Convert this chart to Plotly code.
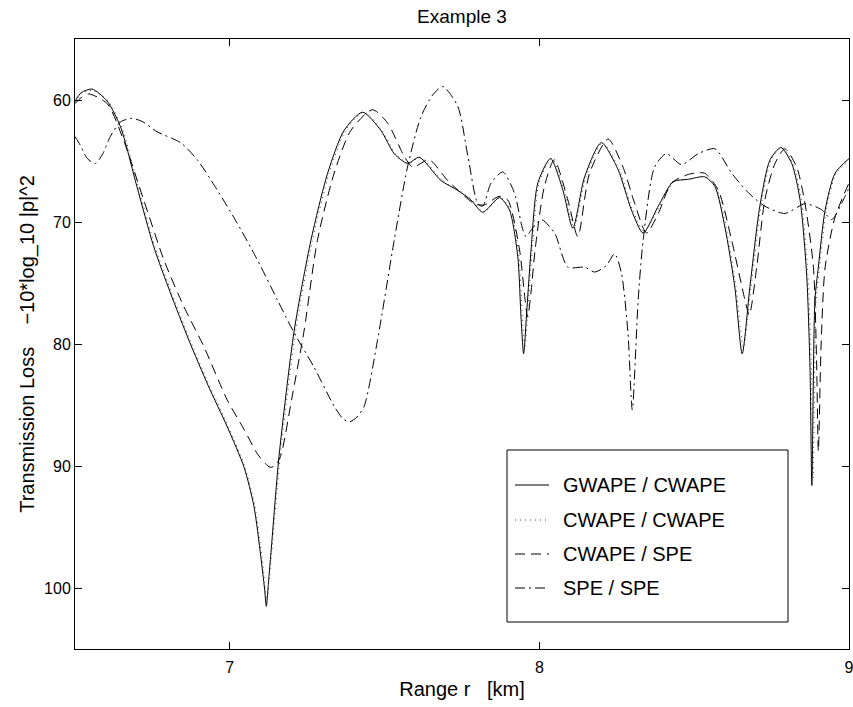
import plotly.graph_objects as go

# ---------------- data ----------------
gw_x = [6.500, 6.520, 6.555, 6.604, 6.647, 6.700, 6.754, 6.808, 6.868, 6.930, 6.992, 7.046, 7.078, 7.100, 7.112,
        7.118, 7.125, 7.132, 7.159, 7.208, 7.262, 7.316, 7.369, 7.429, 7.488, 7.531, 7.574, 7.612, 7.682, 7.736,
        7.779, 7.817, 7.871, 7.903, 7.930, 7.941, 7.949, 7.960, 7.973, 7.995, 8.036, 8.076, 8.108, 8.146, 8.200,
        8.254, 8.297, 8.335, 8.384, 8.432, 8.481, 8.534, 8.567, 8.599, 8.631, 8.655, 8.680, 8.712, 8.745, 8.780,
        8.815, 8.842, 8.863, 8.874, 8.880, 8.890, 8.901, 8.923, 8.955, 9.000]
gw_y = [60.1, 59.4, 59.1, 60.1, 62.2, 67.1, 72.0, 75.8, 79.7, 83.4, 86.8, 90.1, 93.3, 97.4, 100.0,
        101.5, 99.5, 97.4, 89.2, 78.9, 71.5, 66.0, 62.5, 61.0, 62.5, 64.4, 65.2, 64.7, 66.6, 67.4,
        68.2, 69.2, 68.0, 69.0, 72.8, 78.0, 80.8, 77.0, 72.3, 66.8, 64.8, 67.4, 70.5, 66.3, 63.5,
        65.7, 69.0, 70.9, 68.7, 66.7, 66.5, 66.3, 67.1, 70.4, 75.3, 80.8, 75.3, 68.7, 64.9, 63.9,
        65.2, 68.2, 74.2, 81.9, 91.6, 76.4, 73.7, 69.0, 66.0, 64.8]

cw_x = [6.500, 6.520, 6.557, 6.607, 6.651, 6.704, 6.758, 6.812, 6.872, 6.934, 6.996, 7.049, 7.081, 7.103, 7.114,
        7.120, 7.127, 7.135, 7.163, 7.213, 7.267, 7.321, 7.374, 7.433, 7.492, 7.535, 7.578, 7.616, 7.686, 7.740,
        7.783, 7.820, 7.874, 7.906, 7.934, 7.945, 7.953, 7.964, 7.977, 7.999, 8.040, 8.080, 8.112, 8.150, 8.204,
        8.258, 8.301, 8.339, 8.388, 8.436, 8.485, 8.538, 8.571, 8.603, 8.635, 8.659, 8.684, 8.716, 8.749, 8.784,
        8.819, 8.846, 8.867, 8.878, 8.884, 8.894, 8.905, 8.927, 8.959, 9.000]
cw_y = [60.2, 59.5, 59.2, 60.1, 62.2, 67.1, 72.0, 75.8, 79.7, 83.4, 86.8, 90.1, 93.3, 97.3, 99.8,
        101.2, 99.3, 97.2, 89.2, 78.9, 71.5, 66.0, 62.5, 61.0, 62.5, 64.4, 65.2, 64.7, 66.6, 67.4,
        68.2, 69.2, 68.0, 69.0, 72.8, 77.8, 80.3, 76.8, 72.3, 66.8, 64.8, 67.4, 70.4, 66.3, 63.5,
        65.7, 69.0, 70.8, 68.7, 66.7, 66.5, 66.3, 67.1, 70.4, 75.3, 80.3, 75.3, 68.7, 64.9, 63.9,
        65.2, 68.2, 74.2, 81.5, 91.0, 76.4, 73.7, 69.0, 66.0, 65.0]

cs_x = [6.500, 6.520, 6.544, 6.604, 6.657, 6.722, 6.787, 6.851, 6.916, 6.992, 7.046, 7.089, 7.115, 7.130, 7.145,
        7.164, 7.200, 7.240, 7.283, 7.337, 7.391, 7.461, 7.510, 7.563, 7.591, 7.644, 7.704, 7.790, 7.822, 7.870,
        7.898, 7.936, 7.952, 7.962, 7.972, 7.986, 8.016, 8.048, 8.092, 8.124, 8.162, 8.222, 8.270, 8.308, 8.346,
        8.384, 8.427, 8.481, 8.534, 8.578, 8.621, 8.664, 8.678, 8.702, 8.728, 8.761, 8.793, 8.831, 8.858, 8.885,
        8.895, 8.901, 8.910, 8.923, 8.955, 9.000]
cs_y = [60.3, 59.8, 59.5, 60.3, 63.3, 68.2, 73.1, 76.9, 80.2, 84.6, 87.0, 89.0, 89.8, 90.1, 90.0,
        89.2, 84.5, 78.9, 71.5, 66.0, 62.5, 60.8, 61.9, 64.6, 65.5, 64.9, 66.6, 68.5, 68.6, 67.9,
        68.2, 72.3, 76.0, 77.8, 76.0, 72.3, 67.1, 64.9, 68.2, 71.2, 66.0, 63.2, 65.5, 68.5, 70.9,
        69.3, 66.8, 66.1, 66.0, 67.4, 71.5, 76.4, 77.6, 73.7, 68.2, 65.2, 64.0, 65.5, 68.5, 73.7,
        81.0, 88.8, 80.0, 73.7, 69.6, 66.8]

sp_x = [6.500, 6.517, 6.540, 6.566, 6.590, 6.614, 6.647, 6.684, 6.720, 6.765, 6.841, 6.895, 6.960, 7.024, 7.089,
        7.154, 7.208, 7.272, 7.337, 7.365, 7.385, 7.410, 7.434, 7.477, 7.531, 7.574, 7.617, 7.655, 7.688, 7.736,
        7.769, 7.801, 7.817, 7.844, 7.882, 7.919, 7.945, 7.957, 7.975, 8.006, 8.049, 8.092, 8.146, 8.178, 8.215,
        8.243, 8.265, 8.286, 8.300, 8.319, 8.335, 8.372, 8.410, 8.459, 8.513, 8.567, 8.621, 8.675, 8.728, 8.793,
        8.858, 8.912, 8.944, 8.987, 9.000]
sp_y = [63.0, 63.7, 64.8, 65.2, 64.4, 63.0, 61.8, 61.5, 61.8, 62.6, 63.5, 64.9, 67.4, 70.1, 73.1,
        76.4, 79.1, 81.9, 85.1, 86.1, 86.4, 86.0, 85.1, 79.7, 71.5, 65.5, 61.4, 59.6, 58.9, 60.5,
        64.6, 68.5, 68.7, 66.8, 65.9, 67.6, 70.5, 71.2, 70.6, 69.8, 70.9, 73.7, 73.7, 74.1, 73.6,
        72.6, 74.2, 79.1, 85.4, 76.4, 71.5, 65.5, 64.4, 65.3, 64.4, 64.0, 66.0, 67.6, 68.7, 69.3,
        68.5, 69.0, 69.8, 67.9, 67.2]

series_names = ["GWAPE / CWAPE", "CWAPE / CWAPE", "CWAPE / SPE", "SPE / SPE"]
x_ticks = [7, 8, 9]
y_ticks = [60, 70, 80, 90, 100]

# ---------------- styles ----------------
FONT = "Liberation Sans, Arial, Helvetica, sans-serif"
styles = [
    dict(color="black", width=1, dash="solid"),
    dict(color="#444444", width=1, dash="1px,4px"),
    dict(color="black", width=1, dash="10px,6px"),
    dict(color="black", width=1, dash="10px,4px,2px,4px"),
]
data = [(gw_x, gw_y), (cw_x, cw_y), (cs_x, cs_y), (sp_x, sp_y)]

fig = go.Figure()
for (xs, ys), name, st in zip(data, series_names, styles):
    fig.add_trace(go.Scatter(x=xs, y=ys, mode="lines", name=name, showlegend=False,
                             line=dict(color=st["color"], width=st["width"], dash=st["dash"],
                                       shape="spline", smoothing=0.7)))

# ---------------- manual legend box ----------------
ml, mr, mt, mb = 75, 4, 39, 58
W, H = 853, 707
pw, ph = W - ml - mr, H - mt - mb

def px2x(px):
    return (px - ml) / pw

def px2y(py):
    return (H - mb - py) / ph

shapes = [dict(type="rect", xref="paper", yref="paper",
               x0=px2x(507), x1=px2x(788), y0=px2y(622), y1=px2y(450),
               line=dict(color="black", width=1), fillcolor="white", layer="above")]
annotations = []
item_py = [485, 520, 554, 588]
for name, st, py in zip(series_names, styles, item_py):
    shapes.append(dict(type="line", xref="paper", yref="paper",
                       x0=px2x(515), x1=px2x(549), y0=px2y(py), y1=px2y(py),
                       line=dict(color=st["color"], width=1, dash=st["dash"]), layer="above"))
    annotations.append(dict(xref="paper", yref="paper", x=px2x(561), y=px2y(py),
                            xanchor="left", yanchor="middle", text=name, showarrow=False,
                            font=dict(family=FONT, size=20, color="black")))

fig.update_layout(
    width=W, height=H,
    margin=dict(l=ml, r=mr, t=mt, b=mb, autoexpand=False),
    paper_bgcolor="white", plot_bgcolor="white",
    font=dict(family=FONT, color="black"),
    title=dict(text="Example 3", x=(ml + pw / 2) / W, xanchor="center",
               y=1 - 16 / H, yanchor="middle", yref="container",
               font=dict(family=FONT, size=19, color="black")),
    shapes=shapes, annotations=annotations,
    showlegend=False,
)
fig.update_xaxes(range=[6.5, 9], tickvals=x_ticks, ticktext=[str(v) for v in x_ticks],
                 ticks="inside", ticklen=7, tickcolor="black", tickwidth=1,
                 showline=True, linecolor="black", linewidth=1, mirror="ticks",
                 showgrid=False, zeroline=False, ticklabeloverflow="allow", ticklabelstandoff=4,
                 automargin=False,
                 tickfont=dict(family=FONT, size=16, color="black"),
                 title=dict(text="Range r\u00a0\u00a0\u00a0[km]", standoff=6,
                            font=dict(family=FONT, size=20, color="black")))
fig.update_yaxes(range=[105, 55], tickvals=y_ticks, ticktext=[str(v) for v in y_ticks],
                 ticks="inside", ticklen=7, tickcolor="black", tickwidth=1,
                 showline=True, linecolor="black", linewidth=1, mirror="ticks",
                 showgrid=False, zeroline=False, automargin=False,
                 tickfont=dict(family=FONT, size=16, color="black"),
                 title=dict(text="Transmission Loss\u00a0\u00a0\u00a0\u00a0\u221210*log_10 |p|^2", standoff=4,
                            font=dict(family=FONT, size=20, color="black")))

fig.write_html("out.html")
